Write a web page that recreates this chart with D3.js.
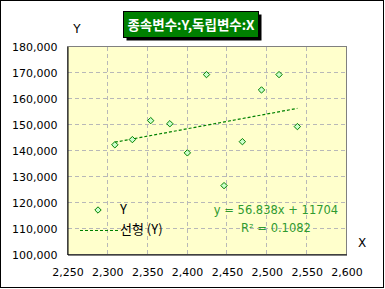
<!DOCTYPE html>
<html>
<head>
<meta charset="utf-8">
<script src="https://cdn.jsdelivr.net/npm/d3@7"></script>
<style>
  body { margin: 0; background: #fff; }
  svg { display: block; }
</style>
</head>
<body>
<svg id="chart"></svg>
<script>
// data
const xValues = [2310, 2332, 2355, 2379, 2401, 2425, 2447, 2470, 2494, 2516, 2539]
const yValues = [142000, 144000, 151300, 150100, 138900, 169000, 126300, 143200, 163100, 169000, 149000]
const xTicks = [2250, 2300, 2350, 2400, 2450, 2500, 2550, 2600]
const yTicks = [100000, 110000, 120000, 130000, 140000, 150000, 160000, 170000, 180000]
const slope = 56.838, intercept = 11704
const titleText = '종속변수:Y,독립변수:X'
const legendLabels = ['Y', '선형 (Y)']
const eqLines = ['y = 56.838x + 11704', 'R² = 0.1082']

const width = 385,
    height = 289
const plot = { left: 67, top: 46, right: 346, bottom: 254 }
const tickFont = '"DejaVu Sans", sans-serif'
const green = '#008000'

const svg = d3.select('#chart')
    .attr('width', width)
    .attr('height', height)

// chart area border
svg.append('rect')
    .attr('x', 0.5).attr('y', 0.5)
    .attr('width', 383).attr('height', 287)
    .attr('fill', '#fff')
    .attr('stroke', '#000')

const x = d3.scaleLinear()
    .domain([2250, 2600])
    .range([plot.left, plot.right])
const y = d3.scaleLinear()
    .domain([100000, 180000])
    .range([plot.bottom, plot.top])

// plot area
svg.append('rect')
    .attr('x', plot.left + 0.5).attr('y', plot.top + 0.5)
    .attr('width', plot.right - plot.left).attr('height', plot.bottom - plot.top)
    .attr('fill', '#ffffcc')
    .attr('stroke', '#808080')

// grid lines
const grid = svg.append('g')
    .attr('stroke', '#b8b8b8')
    .attr('stroke-dasharray', '4,3')
grid.selectAll('.gx')
    .data(xTicks.slice(1, -1))
    .enter()
    .append('line')
    .attr('x1', d => Math.round(x(d)) + 0.5)
    .attr('x2', d => Math.round(x(d)) + 0.5)
    .attr('y1', plot.top + 1)
    .attr('y2', plot.bottom)
grid.selectAll('.gy')
    .data(yTicks.slice(1, -1))
    .enter()
    .append('line')
    .attr('y1', d => Math.round(y(d)) + 0.5)
    .attr('y2', d => Math.round(y(d)) + 0.5)
    .attr('x1', plot.left + 1)
    .attr('x2', plot.right)

// axes
const fmt = d3.format(',')
const xAxis = svg.append('g')
    .attr('transform', `translate(0.5,${plot.bottom + 0.5})`)
    .call(d3.axisBottom(x).tickValues(xTicks).tickFormat(fmt).tickSize(0).tickPadding(14))
const yAxis = svg.append('g')
    .attr('transform', `translate(${plot.left + 0.5},0.5)`)
    .call(d3.axisLeft(y).tickValues(yTicks).tickFormat(fmt).tickSize(0).tickPadding(10))
for (const ax of [xAxis, yAxis]) {
    ax.select('.domain').attr('stroke', '#000')
    ax.selectAll('text')
        .attr('fill', '#000')
        .style('font-family', tickFont)
        .style('font-size', '11px')
}
yAxis.selectAll('text').attr('dy', '0.35em')

// axis titles
svg.append('text')
    .attr('x', 77).attr('y', 33)
    .attr('text-anchor', 'middle')
    .style('font-family', tickFont)
    .style('font-size', '12px')
    .text('Y')
svg.append('text')
    .attr('x', 362).attr('y', 247)
    .attr('text-anchor', 'middle')
    .style('font-family', tickFont)
    .style('font-size', '12px')
    .text('X')

// trendline over the data range
const xr = d3.extent(xValues)
svg.append('line')
    .attr('x1', x(xr[0])).attr('y1', y(slope * xr[0] + intercept))
    .attr('x2', x(xr[1])).attr('y2', y(slope * xr[1] + intercept))
    .attr('stroke', green)
    .attr('stroke-width', 1.2)
    .attr('stroke-dasharray', '3,2')

// markers
const diamond = d3.symbol().type(d3.symbolDiamond2).size(26)
svg.append('g')
    .selectAll('path')
    .data(xValues.map((v, i) => [v, yValues[i]]))
    .enter()
    .append('path')
    .attr('d', diamond)
    .attr('transform', d => `translate(${x(d[0])},${y(d[1])})`)
    .attr('fill', '#ccffcc')
    .attr('stroke', green)
    .attr('stroke-width', 1)

// legend
const legend = svg.append('g').style('font-family', '"Noto Sans CJK KR", sans-serif').style('font-size', '13px')
legend.append('path')
    .attr('d', diamond)
    .attr('transform', 'translate(98,210)')
    .attr('fill', '#ccffcc')
    .attr('stroke', green)
legend.append('line')
    .attr('x1', 80).attr('x2', 118)
    .attr('y1', 230.5).attr('y2', 230.5)
    .attr('stroke', green)
    .attr('stroke-width', 1.2)
    .attr('stroke-dasharray', '3,2')
legend.selectAll('text')
    .data(legendLabels)
    .enter()
    .append('text')
    .attr('x', 120)
    .attr('y', (d, i) => 214 + i * 20)
    .text(d => d)

// equation label
svg.append('g')
    .selectAll('text')
    .data(eqLines)
    .enter()
    .append('text')
    .attr('x', 276)
    .attr('y', (d, i) => 214 + i * 18)
    .attr('text-anchor', 'middle')
    .attr('fill', '#2f9a2f')
    .style('font-family', tickFont)
    .style('font-size', '11.5px')
    .text(d => d)

// title box with shadow
const tb = { x: 123.5, y: 11.5, w: 135, h: 26 }
svg.append('rect')
    .attr('x', tb.x + 3).attr('y', tb.y + 3)
    .attr('width', tb.w).attr('height', tb.h)
    .attr('fill', '#000')
svg.append('rect')
    .attr('x', tb.x).attr('y', tb.y)
    .attr('width', tb.w).attr('height', tb.h)
    .attr('fill', green)
    .attr('stroke', '#000')
svg.append('text')
    .attr('x', tb.x + tb.w / 2).attr('y', 29.5)
    .attr('text-anchor', 'middle')
    .attr('fill', '#fff')
    .style('font-family', '"Noto Sans CJK KR", sans-serif')
    .style('font-weight', 'bold')
    .style('font-size', '13.5px')
    .text(titleText)
</script>
</body>
</html>
